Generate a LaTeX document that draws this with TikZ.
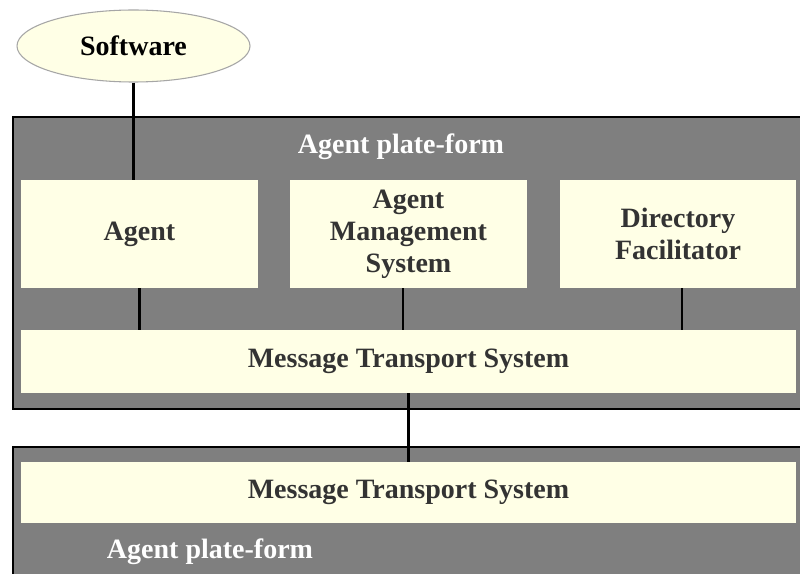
\documentclass[tikz,border=0pt]{standalone}
\usepackage{fontspec}
\setmainfont{Liberation Serif}
\usetikzlibrary{positioning,shapes}
\definecolor{platgray}{HTML}{7F7F7F}
\definecolor{unitfill}{HTML}{FFFFE6}
\definecolor{textdark}{HTML}{333333}
\begin{document}
\begin{tikzpicture}[x=0.75pt,y=-0.75pt,
  font=\bfseries\fontsize{21}{24}\selectfont,
  platform/.style={draw=black,line width=1.3pt,fill=platgray,anchor=north west,inner sep=0pt,
    minimum width=598.5pt},
  unit/.style={fill=unitfill,text=textdark,inner sep=0pt,align=center},
  software/.style={draw=gray!70,thick,ellipse,fill=unitfill,text=black,inner sep=0pt,
    minimum width=174.75pt,minimum height=54pt},
  pflabel/.style={text=white},
  to/.style={line width=1.6pt,black}]

  \useasboundingbox[fill=white] (0,0) rectangle (800,574);
  \clip (0,0) rectangle (800,574);

  % Plate-forms
  \node[platform,minimum height=219pt] (topform) at (12,116) {};
  \node[platform,minimum height=105pt] (botform) at (12,446) {};
  \node[pflabel] (toplabel) at (401,147) {Agent plate-form};
  \node[pflabel] (botlabel) at (210,552) {Agent plate-form};

  % Software
  \node[software] (soft) at (133.5,46) {Software};

  % Units of the upper plate-form
  \node[unit,minimum width=177.75pt,minimum height=81pt] (agent) at (139.5,234) {Agent};
  \node[unit,minimum width=177.75pt,minimum height=81pt] (ams) at (408.5,234)
      {Agent\\ Management\\ System};
  \node[unit,minimum width=177pt,minimum height=81pt] (df) at (678,234)
      {Directory\\ Facilitator};
  \node[unit,minimum width=581.25pt,minimum height=47.25pt] (mts) at (408.5,361.5)
      {Message Transport System};

  % Unit of the lower plate-form
  \node[unit,minimum width=581.25pt,minimum height=45.75pt] (mtsb) at (408.5,492.5)
      {Message Transport System};

  % Connections
  \draw[to] (soft.south) -- (soft.south |- agent.north);
  \draw[to] (agent.south) -- (agent.south |- mts.north);
  \draw[to] ([xshift=-4pt]ams.south) -- ([xshift=-4pt]ams.south |- mts.north);
  \draw[to] ([xshift=3pt]df.south) -- ([xshift=3pt]df.south |- mts.north);
  \draw[to] (mts.south) -- (mtsb.north);

\end{tikzpicture}
\end{document}
